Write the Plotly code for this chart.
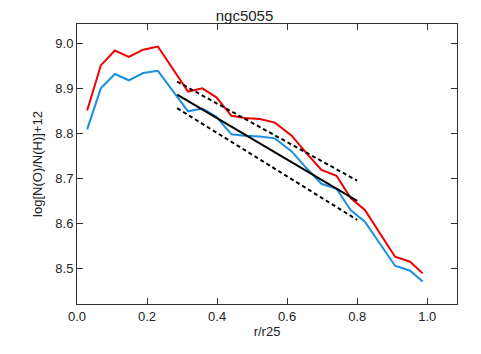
import plotly.graph_objects as go

# radial profiles, r/r25
r_prof = [0.029, 0.068, 0.108, 0.148, 0.189, 0.231, 0.317, 0.358, 0.398, 0.441,
          0.479, 0.522, 0.565, 0.613, 0.655, 0.698, 0.741, 0.782, 0.822, 0.908,
          0.951, 0.987]
oh_red = [8.852, 8.952, 8.985, 8.971, 8.987, 8.994, 8.894, 8.901, 8.881, 8.840,
          8.835, 8.833, 8.825, 8.796, 8.757, 8.720, 8.707, 8.657, 8.631, 8.527,
          8.516, 8.490]
oh_blue = [8.810, 8.901, 8.933, 8.919, 8.935, 8.940, 8.850, 8.856, 8.838, 8.799,
           8.796, 8.794, 8.790, 8.761, 8.724, 8.689, 8.678, 8.630, 8.605, 8.507,
           8.496, 8.472]

# linear fit and its envelope
r_fit = [0.286, 0.800]
oh_fit = [8.887, 8.651]
oh_fit_hi = [8.916, 8.696]
oh_fit_lo = [8.857, 8.609]

fig = go.Figure()
fig.add_trace(go.Scatter(x=r_prof, y=oh_red, mode="lines",
                         line=dict(color="#ee0000", width=2)))
fig.add_trace(go.Scatter(x=r_prof, y=oh_blue, mode="lines",
                         line=dict(color="#1a8fe0", width=2)))
fig.add_trace(go.Scatter(x=r_fit, y=oh_fit, mode="lines",
                         line=dict(color="black", width=2)))
fig.add_trace(go.Scatter(x=r_fit, y=oh_fit_hi, mode="lines",
                         line=dict(color="black", width=2, dash="4px,3px")))
fig.add_trace(go.Scatter(x=r_fit, y=oh_fit_lo, mode="lines",
                         line=dict(color="black", width=2, dash="4px,3px")))

axis_common = dict(showgrid=False, zeroline=False, showline=True, mirror="ticks",
                   linecolor="#333333", linewidth=1, ticks="inside", ticklen=6,
                   tickcolor="#333333", tickfont=dict(size=13, color="#222222"),
                   automargin=False)

# the page body adds 8px around the figure, so the figure is a bit smaller
fig.update_layout(
    width=473, height=346,
    margin=dict(l=69, r=24, t=16, b=50),
    paper_bgcolor="white", plot_bgcolor="white",
    showlegend=False,
    font=dict(family="Liberation Sans, Arial, sans-serif", color="#222222"),
    title=dict(text="ngc5055", x=0.5, xanchor="center", y=0.993, yanchor="top",
               pad=dict(t=0, b=0), font=dict(size=15)),
    xaxis=dict(range=[0, 1.085], dtick=0.2, tickformat=".1f",
               title=dict(text="r/r25", font=dict(size=13), standoff=3),
               **axis_common),
    yaxis=dict(range=[8.422, 9.044], dtick=0.1, tickformat=".1f",
               title=dict(text="log[N(O)/N(H)]+12", font=dict(size=13), standoff=9),
               **axis_common),
)

fig.write_html("out.html")
